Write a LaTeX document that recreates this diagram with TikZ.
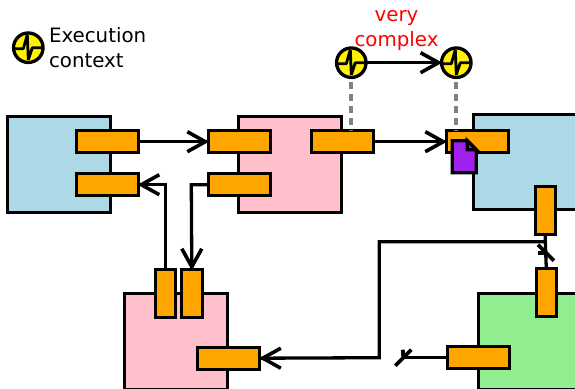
\documentclass[tikz,border=0pt]{standalone}
\usepackage{fontspec}
\setmainfont{DejaVu Sans}
\usetikzlibrary{arrows.meta,shapes.geometric}
\definecolor{cblue}{HTML}{ADD8E6}
\definecolor{cpink}{HTML}{FFC0CB}
\definecolor{cgreen}{HTML}{90EE90}
\definecolor{cport}{HTML}{FFA500}
\definecolor{cdoc}{HTML}{A020F0}
\definecolor{cgray}{HTML}{808080}
\newcommand{\pulsemark}[1]{\draw[line width=2.8pt,line join=bevel] ([shift={(-15,1)}]#1.center) -- ++(10,0) -- ++(4,-14) -- ++(1,25) -- ++(4,-12) -- ++(11,0);}
% open arrow heads, tip at the named anchor
\newcommand{\headright}[1]{\draw[headline] ([shift={(-21,-10)}]#1) -- ([shift={(-3,0)}]#1) -- ([shift={(-21,10)}]#1);}
\newcommand{\headleft}[1]{\draw[headline] ([shift={(21,-10)}]#1) -- ([shift={(3,0)}]#1) -- ([shift={(21,10)}]#1);}
\newcommand{\headdown}[1]{\draw[headline] ([shift={(-10,-21)}]#1) -- ([shift={(0,-3)}]#1) -- ([shift={(10,-21)}]#1);}
\tikzset{
  x=1pt,y=-1pt,
  comp/.style={draw=black,line width=3.3pt,rectangle,inner sep=0pt,outer sep=0pt},
  hport/.style={comp,fill=cport,minimum width=62pt,minimum height=22pt},
  vport/.style={comp,fill=cport,minimum width=20pt,minimum height=48pt},
  ctx/.style={draw=black,fill=yellow,circle,line width=3.3pt,minimum size=29.5pt,inner sep=0pt,outer sep=0pt},
  conn/.style={draw=black,line width=3.3pt,line join=miter},
  headline/.style={draw=black,line width=3.6pt,line join=miter},
  dep/.style={draw=cgray,line width=3.8pt,dash pattern=on 7pt off 5pt,shorten <=5pt},
  lbl/.style={font=\fontsize{19.8}{25}\selectfont,inner sep=0pt,outer sep=0pt},
  markline/.style={draw=black,line width=3.8pt}
}
\begin{document}
\begin{tikzpicture}
\useasboundingbox (0,0) rectangle (575,388);
\clip (0,0) rectangle (575,388);
% labels
\node[lbl,align=left,anchor=west] (t0) at (49,47.5) {Execution\\context};
\node[lbl,align=center,text=red] (t1) at (396.5,31) {very\\complex};
\begin{scope}[shift={(0.3,0.7)}]
% components
\node[comp,fill=cblue,minimum width=103pt,minimum height=96pt] (a) at (58.5,164) {};
\node[comp,fill=cpink,minimum width=103pt,minimum height=96pt] (b) at (289.5,164) {};
\node[comp,fill=cblue,minimum width=112pt,minimum height=95pt] (c) at (529,161.5) {};
\node[comp,fill=cpink,minimum width=103pt,minimum height=96pt] (d) at (175.5,340.5) {};
\node[comp,fill=cgreen,minimum width=112pt,minimum height=96pt] (e) at (534,340.5) {};
% ports
\node[hport] (a1) at (107,141) {};
\node[hport] (a2) at (107,184) {};
\node[hport] (b1) at (239,141) {};
\node[hport] (b2) at (239,184) {};
\node[hport] (b3) at (342,141) {};
\node[hport] (c1) at (477,141) {};
\node[vport] (c2) at (545,210) {};
\node[vport] (d1) at (165,293) {};
\node[vport,minimum width=21pt] (d2) at (191.5,293) {};
\node[hport] (d3) at (228.5,357.5) {};
\node[vport] (e1) at (546,292) {};
\node[hport] (e2) at (478.5,357) {};
% document
\draw[line width=3.3pt,fill=cdoc,line join=miter] (452,140) -- (467,140) -- (476,149) -- (476,172) -- (452,172) -- cycle;
\draw[line width=3.3pt,fill=cdoc,line join=miter] (467,140) -- (467,149) -- (476,149) -- cycle;
% execution contexts
\node[ctx] (k0) at (28,47) {};
\node[ctx] (k1) at (351,62) {};
\node[ctx] (k2) at (456,62) {};
\pulsemark{k0}
\pulsemark{k1}
\pulsemark{k2}
% dependency lines
\draw[dep] (k1.south) -- (b3.north -| k1.south);
\draw[dep] (k2.south) -- (c1.north -| k2.south);
% connectors
\draw[conn] (k1) -- (k2.west);  \headright{k2.west}
\draw[conn] (a1) -- (b1.west);  \headright{b1.west}
\draw[conn] (b3) -- (c1.west);  \headright{c1.west}
\coordinate (j1) at (165,184);
\draw[conn] (d1.north) -- (j1) -- (a2.east);  \headleft{a2.east}
\coordinate (j2) at (191,184);
\draw[conn] (b2.west) -- (j2) -- (d2.north);  \headdown{d2.north}
\coordinate (j3) at (545,241);
\coordinate (j4) at (379,241);
\coordinate (j5) at (379,357);
\draw[conn] (c2.south) -- (j3) -- (j4) -- (j5) -- (d3.east);  \headleft{d3.east}
\coordinate (m1) at (545.6,252);
\coordinate (m2) at (403,357);
\draw[conn] (e1.north) -- (j3);
\draw[conn] (e2.west) -- (m2);
\draw[markline] ([shift={(-8,-8)}]m1) -- ([shift={(8,8)}]m1);
\draw[markline] ([shift={(-8,0)}]m1) -- (m1);
\draw[markline] ([shift={(-8,8)}]m2) -- ([shift={(8,-8)}]m2);
\draw[markline] ([shift={(-0.5,-8)}]m2) -- (m2);
\end{scope}
\end{tikzpicture}
\end{document}
